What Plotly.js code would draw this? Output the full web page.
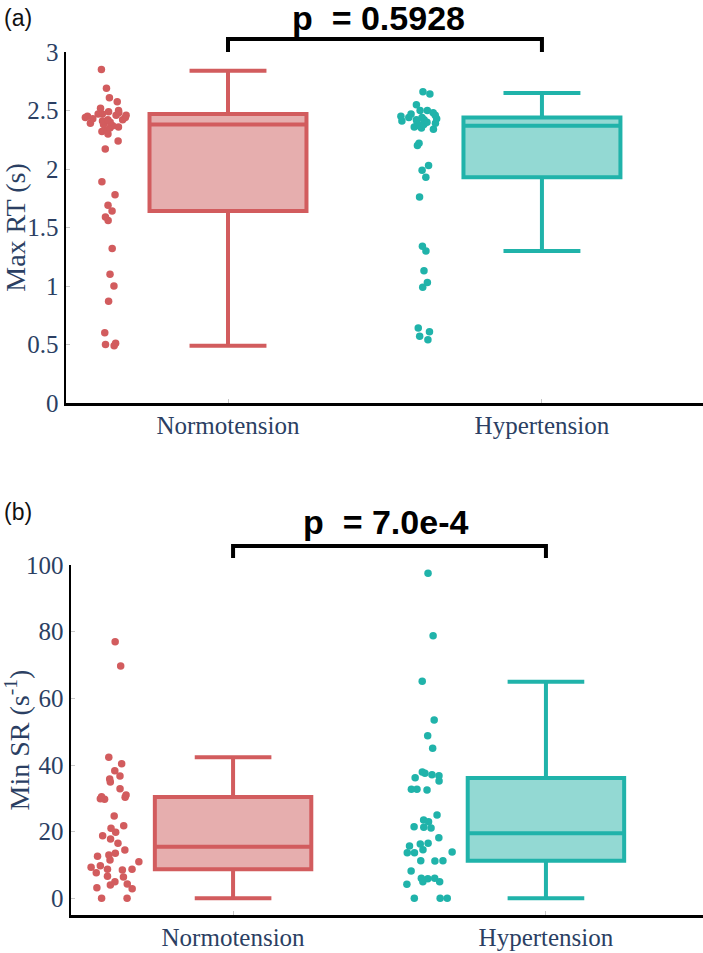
<!DOCTYPE html>
<html>
<head>
<meta charset="utf-8">
<script src="https://cdn.plot.ly/plotly-3.0.1.min.js"></script>
<style>html,body{margin:0;padding:0;background:#fff;}#chart{width:703px;height:953px;}</style>
</head>
<body>
<div id="chart"></div>
<script>
const categories = ['Normotension', 'Hypertension'];

// Panel (a): Max RT (s), individual subjects
const maxRtNormo = [2.85, 2.69, 2.61, 2.575, 2.52, 2.50, 2.49, 2.48, 2.47, 2.47, 2.46, 2.46, 2.45, 2.44, 2.44,
  2.43, 2.42, 2.42, 2.41, 2.40, 2.39, 2.38, 2.37, 2.36, 2.35, 2.33, 2.32, 2.30, 2.24, 2.17,
  1.89, 1.78, 1.69, 1.64, 1.59, 1.56, 1.32, 1.10, 1.00, 0.87, 0.60, 0.51, 0.50, 0.49];
const maxRtHyper = [2.66, 2.64, 2.55, 2.50, 2.50, 2.48, 2.47, 2.46, 2.45, 2.44, 2.44, 2.43, 2.42, 2.42, 2.41,
  2.40, 2.40, 2.39, 2.38, 2.37, 2.36, 2.35, 2.34, 2.22, 2.20, 2.03, 1.99, 1.93, 1.76,
  1.34, 1.30, 1.13, 1.03, 0.99, 0.64, 0.61, 0.57, 0.54];
// Panel (a) box statistics [Normotension, Hypertension]
const maxRtLower = [0.49, 1.30];
const maxRtQ1 = [1.64, 1.93];
const maxRtMedian = [2.38, 2.37];
const maxRtQ3 = [2.47, 2.44];
const maxRtUpper = [2.84, 2.65];

// Panel (b): Min SR (s^-1), individual subjects
const minSrNormo = [77.0, 69.7, 42.3, 40.4, 38.3, 36.7, 35.8, 34.9, 32.9, 31.0, 30.5, 30.3, 29.9, 29.7, 24.7,
  21.8, 21.0, 19.8, 18.8, 17.8, 16.5, 14.5, 13.5, 13.0, 12.6, 11.5, 11.0, 9.8, 9.3, 8.7,
  8.7, 8.5, 7.7, 6.6, 6.4, 5.0, 4.3, 4.0, 3.2, 2.9, 0, 0];
const minSrHyper = [97.5, 78.8, 65.1, 53.5, 48.8, 45.0, 37.9, 37.5, 37.1, 36.8, 36.2, 35.2, 32.7, 32.7, 32.5,
  25.0, 23.5, 23.0, 21.5, 21.3, 21.1, 18.2, 16.5, 16.3, 15.7, 14.6, 13.9, 13.7, 13.7, 11.3,
  11.3, 11.2, 8.2, 6.0, 6.0, 5.9, 5.0, 5.0, 4.2, 0, 0, 0];
// Panel (b) box statistics [Normotension, Hypertension]
const minSrLower = [0, 0];
const minSrQ1 = [8.7, 11.3];
const minSrMedian = [15.5, 19.5];
const minSrQ3 = [30.4, 36.1];
const minSrUpper = [42.3, 65.0];

const pValueTexts = ['p\u00a0\u00a0= 0.5928', 'p\u00a0\u00a0= 7.0e-4'];

const lineColors = ['#D25C5E', '#20B3AA'];
const fillColors = ['#E6AEAE', '#93D9D3'];

function pointsTrace(values, i, xa, ya) {
  return {
    type: 'box', x: values.map(() => categories[i]), y: values,
    xaxis: xa, yaxis: ya,
    boxpoints: 'all', jitter: 0.34, pointpos: -1.5, width: 0.5,
    line: {width: 0, color: 'rgba(0,0,0,0)'}, fillcolor: 'rgba(0,0,0,0)',
    marker: {color: lineColors[i], size: 7.5},
    showlegend: false, hoverinfo: 'y'
  };
}
function statsTrace(i, lower, q1, med, q3, upper, xa, ya) {
  return {
    type: 'box', x: [categories[i]],
    lowerfence: [lower[i]], q1: [q1[i]], median: [med[i]], q3: [q3[i]], upperfence: [upper[i]],
    xaxis: xa, yaxis: ya, boxpoints: false, width: 0.5, whiskerwidth: 0.49,
    line: {color: lineColors[i], width: 4}, fillcolor: fillColors[i],
    showlegend: false
  };
}

const data = [
  pointsTrace(maxRtNormo, 0, 'x', 'y'),
  pointsTrace(maxRtHyper, 1, 'x', 'y'),
  statsTrace(0, maxRtLower, maxRtQ1, maxRtMedian, maxRtQ3, maxRtUpper, 'x', 'y'),
  statsTrace(1, maxRtLower, maxRtQ1, maxRtMedian, maxRtQ3, maxRtUpper, 'x', 'y'),
  pointsTrace(minSrNormo, 0, 'x2', 'y2'),
  pointsTrace(minSrHyper, 1, 'x2', 'y2'),
  statsTrace(0, minSrLower, minSrQ1, minSrMedian, minSrQ3, minSrUpper, 'x2', 'y2'),
  statsTrace(1, minSrLower, minSrQ1, minSrMedian, minSrQ3, minSrUpper, 'x2', 'y2')
];

const labelColor = '#2B3F63';
const serif = 'Liberation Serif, Times New Roman, serif';
const H = 953, W = 703;

function xAxis(domainLeft, range, anchor) {
  return {
    type: 'category', categoryorder: 'array', categoryarray: categories,
    domain: [domainLeft / W, 1], range: range, anchor: anchor,
    showline: true, linecolor: '#000', linewidth: 2.5, mirror: false,
    showgrid: false, zeroline: false,
    ticks: 'inside', ticklen: 4, tickwidth: 1, tickcolor: '#c8c8c8',
    tickfont: {family: serif, size: 25, color: labelColor},
    ticklabelstandoff: -2
  };
}
function yAxis(top, bottom, range, dtick, title, anchor) {
  return {
    domain: [1 - bottom / H, 1 - top / H], range: range, dtick: dtick, anchor: anchor,
    showline: true, linecolor: '#000', linewidth: 2.5, mirror: false,
    showgrid: false, zeroline: false,
    ticks: 'inside', ticklen: 4, tickwidth: 1, tickcolor: '#c8c8c8',
    tickfont: {family: serif, size: 25, color: labelColor},
    title: {text: title, font: {family: serif, size: 28, color: labelColor}, standoff: 0}
  };
}

const layout = {
  width: W, height: H,
  margin: {l: 0, r: 0, t: 0, b: 0},
  paper_bgcolor: '#fff', plot_bgcolor: '#fff',
  boxmode: 'overlay',
  showlegend: false,
  xaxis: xAxis(66, [-0.516, 1.513], 'y'),
  yaxis: yAxis(52, 403, [0, 3], 0.5, 'Max RT (s)', 'x'),
  xaxis2: xAxis(71, [-0.518, 1.502], 'y2'),
  yaxis2: yAxis(565, 915, [-5, 100], 20, 'Min SR (s<sup>-1</sup>)', 'x2'),
  shapes: [
    {type: 'path', xref: 'x', yref: 'paper', path: 'M0,' + (1 - 52 / H) + ' V' + (1 - 39 / H) + ' H1 V' + (1 - 52 / H),
     line: {color: '#000', width: 4}},
    {type: 'path', xref: 'x2', yref: 'paper', path: 'M0,' + (1 - 558 / H) + ' V' + (1 - 546 / H) + ' H1 V' + (1 - 558 / H),
     line: {color: '#000', width: 4}}
  ],
  annotations: [
    {text: '(a)', xref: 'paper', yref: 'paper', x: 2 / W, y: 1 - 18 / H, xanchor: 'left', yanchor: 'middle',
     showarrow: false, font: {family: 'Liberation Sans, Arial, sans-serif', size: 23, color: '#111'}},
    {text: '(b)', xref: 'paper', yref: 'paper', x: 2 / W, y: 1 - 512 / H, xanchor: 'left', yanchor: 'middle',
     showarrow: false, font: {family: 'Liberation Sans, Arial, sans-serif', size: 23, color: '#111'}},
    {text: '<b>' + pValueTexts[0] + '</b>', xref: 'paper', yref: 'paper', x: 378 / W, y: 1 - 18 / H,
     xanchor: 'center', yanchor: 'middle', showarrow: false,
     font: {family: 'Liberation Sans, Arial, sans-serif', size: 34, color: '#000'}},
    {text: '<b>' + pValueTexts[1] + '</b>', xref: 'paper', yref: 'paper', x: 385 / W, y: 1 - 522 / H,
     xanchor: 'center', yanchor: 'middle', showarrow: false,
     font: {family: 'Liberation Sans, Arial, sans-serif', size: 34, color: '#000'}}
  ]
};

Plotly.newPlot('chart', data, layout, {displayModeBar: false, staticPlot: true});
</script>
</body>
</html>
